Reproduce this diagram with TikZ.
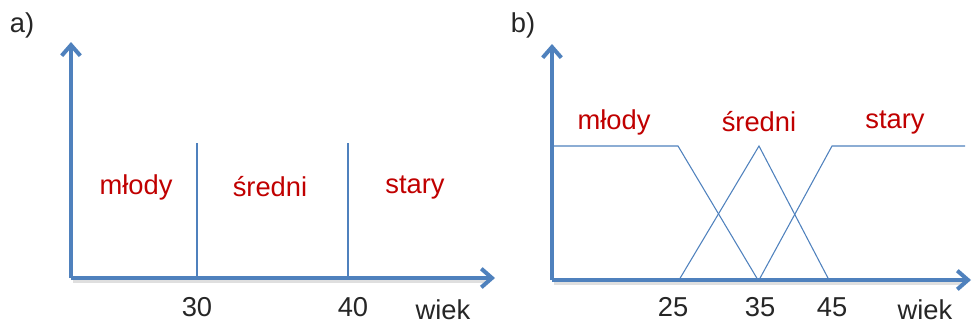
\documentclass[tikz,border=0pt]{standalone}
\usepackage{fontspec}
\setmainfont{Liberation Sans}
\usetikzlibrary{arrows.meta}
\definecolor{axblue}{HTML}{4F81BD}
\definecolor{lblred}{HTML}{C00000}
\definecolor{txtgray}{HTML}{262626}
\begin{document}
\begin{tikzpicture}[x=0.75pt,y=-0.75pt,
  axis/.style={draw=axblue,line width=3pt,-{Straight Barb[length=8pt,width=14pt]}},
  shadowline/.style={draw=black!25,line width=3pt,opacity=0.5},
  thin/.style={draw=axblue,line width=0.8pt},
  lbl/.style={text=lblred,font=\fontsize{20.5}{24}\selectfont,inner sep=0pt},
  num/.style={text=txtgray,font=\fontsize{20.5}{24}\selectfont,inner sep=0pt}]
\useasboundingbox (0,0) rectangle (972,326);
% ---------- panel a ----------
\coordinate (aO) at (71,278);
\coordinate (aY) at (71,42);
\coordinate (aX) at (495,278);
\coordinate (a30t) at (197,143);
\coordinate (a30b) at (197,278);
\coordinate (a40t) at (348,143);
\coordinate (a40b) at (348,278);
\draw[shadowline] (73,281) -- (490,281);
\draw[axis] (aO) -- (aY);
\draw[axis] (aO) -- (aX);
\draw[thin] (a30t) -- (a30b);
\draw[thin] (a40t) -- (a40b);
\node[num] (alab) at (22,25) {a)};
\node[lbl] (amlody) at (136,187) {młody};
\node[lbl] (asredni) at (270,187) {średni};
\node[lbl] (astary) at (415,187) {stary};
\node[num] (a30) at (197,307) {30};
\node[num] (a40) at (353,307) {40};
\node[num] (awiek) at (443,310) {wiek};
% ---------- panel b ----------
\coordinate (bO) at (552,280);
\coordinate (bY) at (552,44);
\coordinate (bX) at (971,280);
\coordinate (p0) at (552,146);
\coordinate (p1) at (678,146);
\coordinate (p2) at (758,280);
\coordinate (q0) at (679,280);
\coordinate (q1) at (759,146);
\coordinate (q2) at (829,280);
\coordinate (r0) at (759,280);
\coordinate (r1) at (832,146);
\coordinate (r2) at (965,146);
\draw[shadowline] (554,283) -- (966,283);
\draw[thin] (p0) -- (p1) -- (p2);
\draw[thin] (q0) -- (q1) -- (q2);
\draw[thin] (r0) -- (r1) -- (r2);
\draw[axis] (bO) -- (bY);
\draw[axis] (bO) -- (bX);
\node[num] (blab) at (523,25) {b)};
\node[lbl] (bmlody) at (614,122) {młody};
\node[lbl] (bsredni) at (759,122) {średni};
\node[lbl] (bstary) at (895,122) {stary};
\node[num] (b25) at (673,307) {25};
\node[num] (b35) at (760,307) {35};
\node[num] (b45) at (832,307) {45};
\node[num] (bwiek) at (925,310) {wiek};
\end{tikzpicture}
\end{document}
